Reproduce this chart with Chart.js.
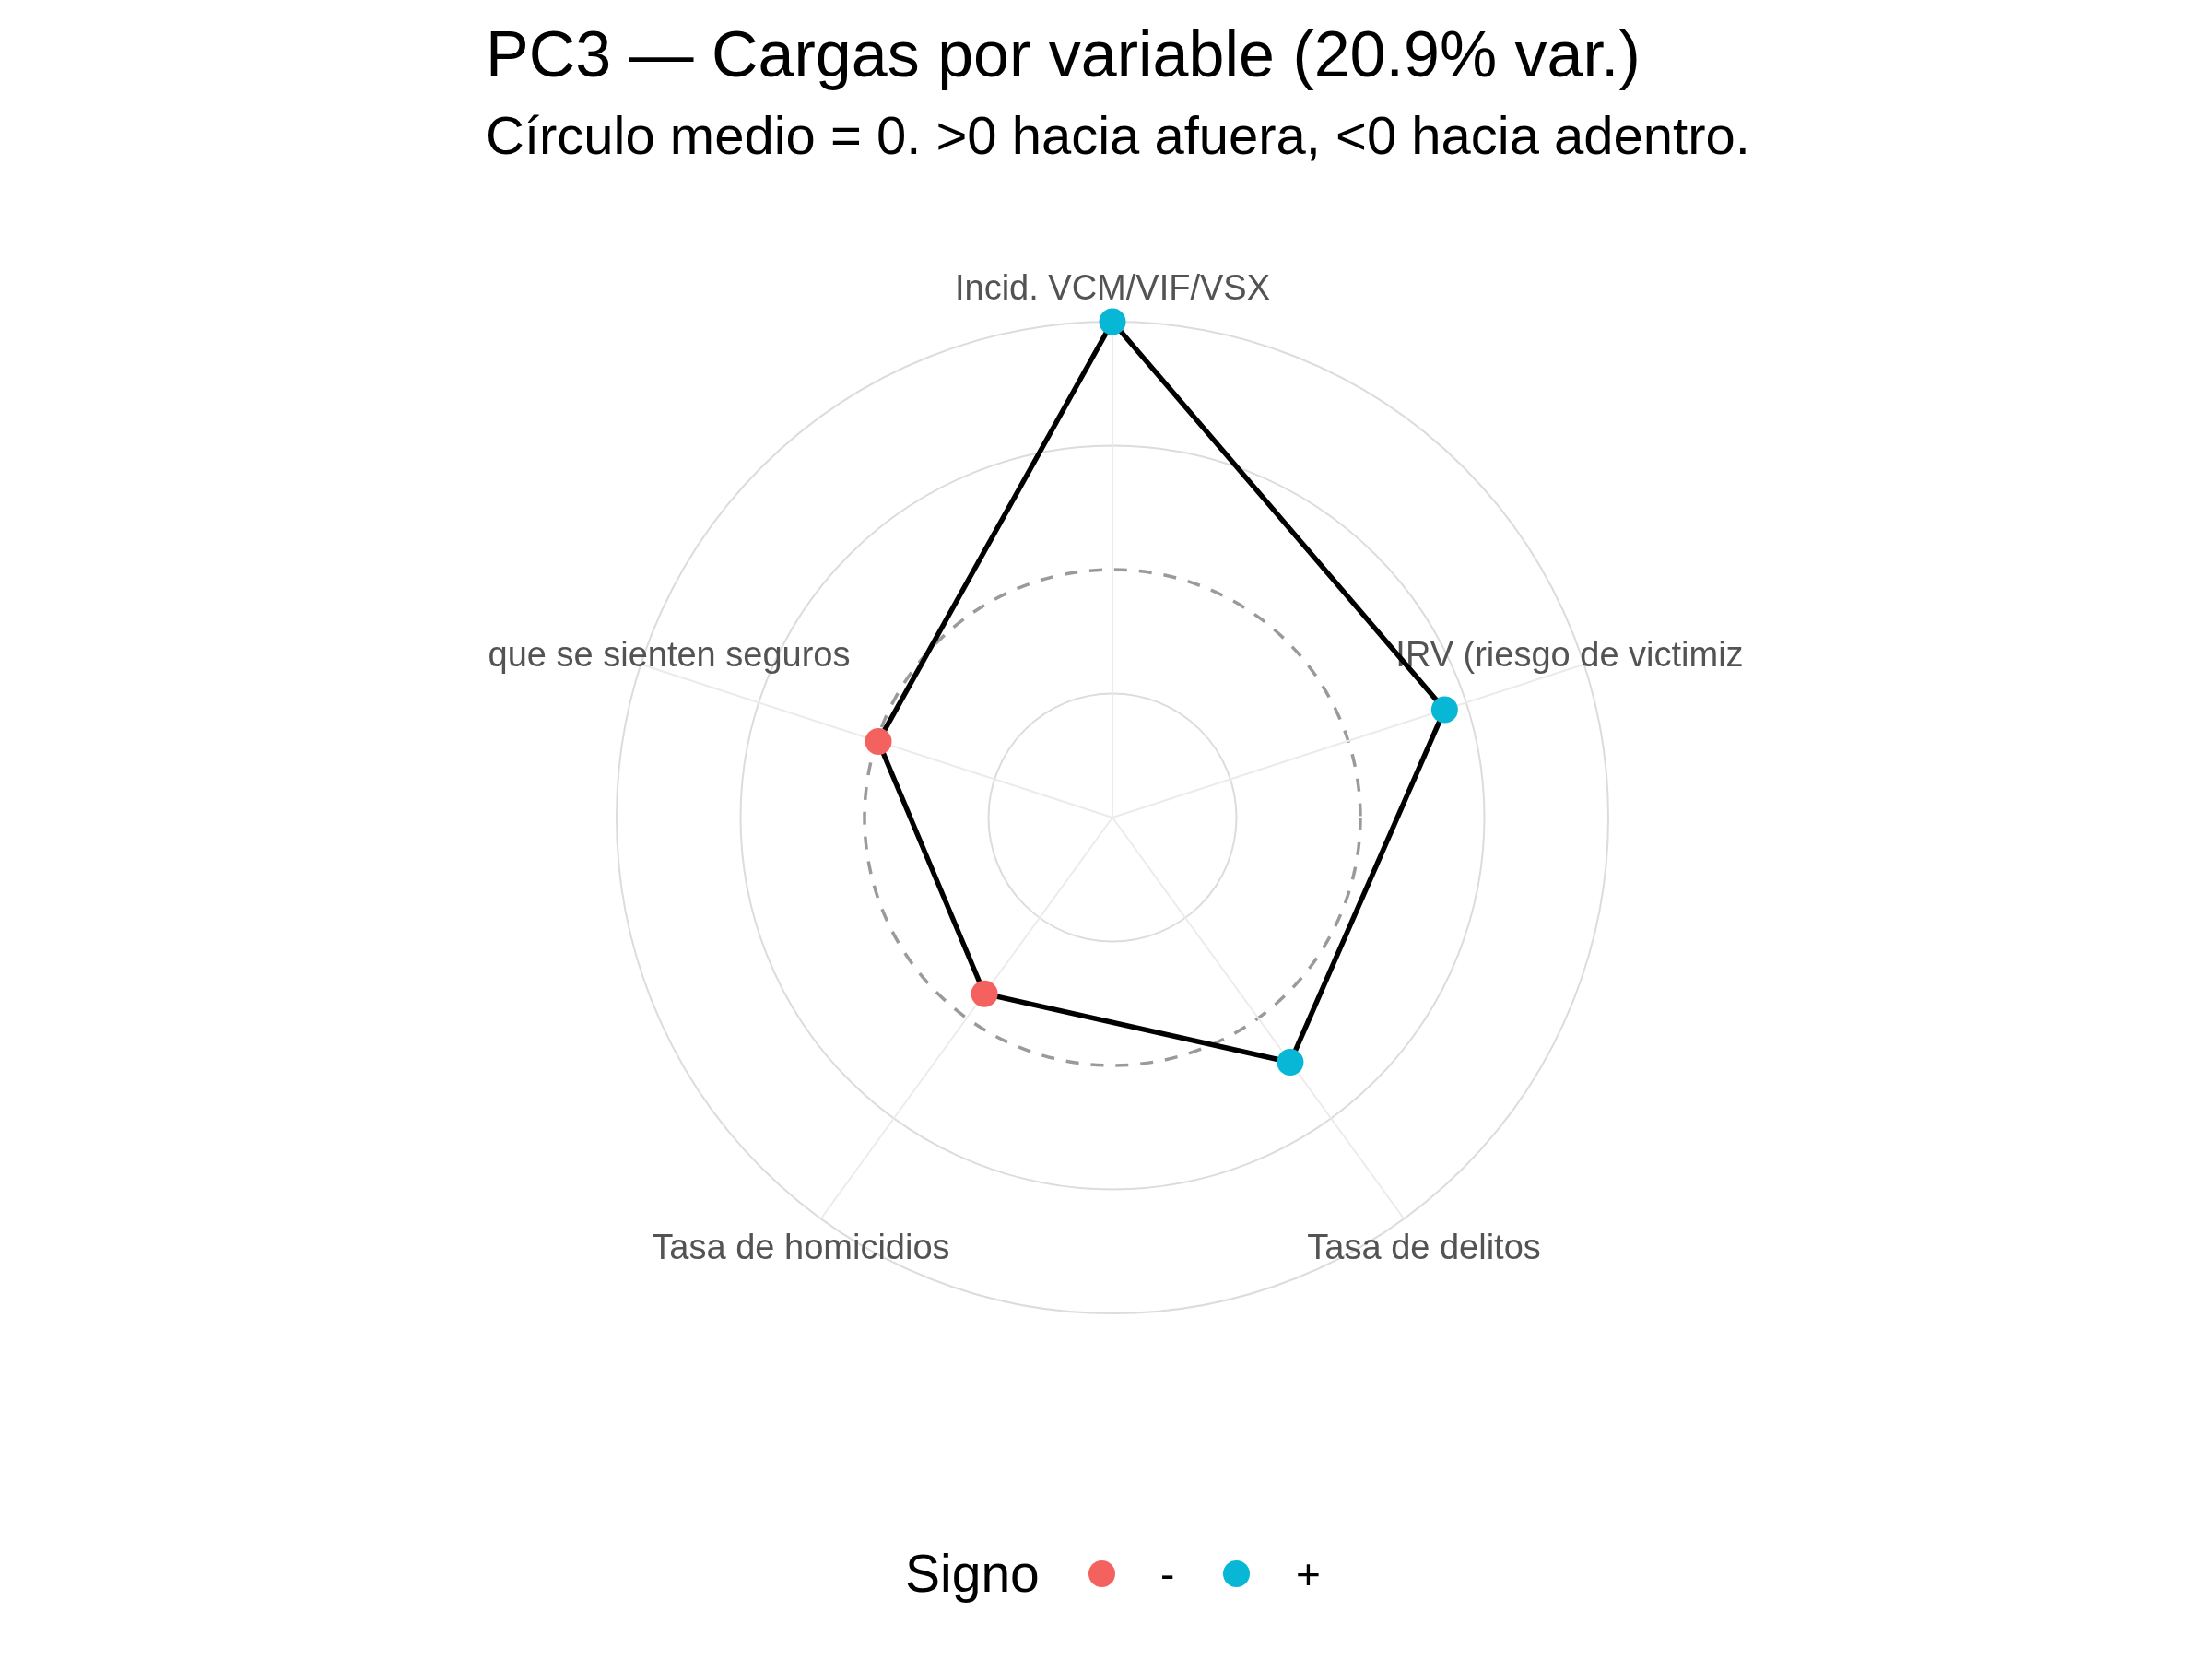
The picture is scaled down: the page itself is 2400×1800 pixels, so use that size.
<!DOCTYPE html>
<html>
<head>
<meta charset="utf-8">
<script src="https://cdn.jsdelivr.net/npm/chart.js@4"></script>
<style>
  body { margin: 0; background: #fff; }
  #wrap { position: relative; width: 2400px; height: 1800px; font-family: "Liberation Sans", Arial, sans-serif; }
  .txt { position: absolute; white-space: nowrap; line-height: 1; color: #000; }
  .dot { position: absolute; width: 29px; height: 29px; border-radius: 50%; }
</style>
</head>
<body>
<div id="wrap">
  <canvas id="myChart" width="2400" height="1800"></canvas>
  <div class="txt" style="left:527px; top:24px; font-size:70px;">PC3 — Cargas por variable (20.9% var.)</div>
  <div class="txt" style="left:527px; top:118px; font-size:58px;">Círculo medio = 0. &gt;0 hacia afuera, &lt;0 hacia adentro.</div>
  <div id="legend"></div>
</div>
<script>
// loadings (rings: -0.7 centre, 0 dashed, 0.7 outer)
const categories = ['Incid. VCM/VIF/VSX', 'IRV (riesgo de victimiz', 'Tasa de delitos', 'Tasa de homicidios', 'que se sienten seguros'];
const loadings = [0.70, 0.286, 0.154, -0.085, -0.005];
const rTicks = [-0.7, -0.35, 0, 0.35, 0.7];
const signLabels = ['-', '+'];
const signColors = ['#F3625F', '#08B7D6'];

function signColor(v) {
    return v < 0 ? signColors[0] : signColors[1];
}

// legend (html)
const legend = document.getElementById('legend');
legend.innerHTML =
    '<div class="txt" style="left:982px; top:1679px; font-size:57px;">Signo</div>' +
    '<div class="dot" style="left:1181px; top:1693px; background:' + signColors[0] + '"></div>' +
    '<div class="txt" style="left:1259px; top:1685px; font-size:46px;">' + signLabels[0] + '</div>' +
    '<div class="dot" style="left:1327px; top:1693px; background:' + signColors[1] + '"></div>' +
    '<div class="txt" style="left:1406px; top:1685px; font-size:46px;">' + signLabels[1] + '</div>';

// labels sit a bit outside the outer ring, side ones nudged inwards like the original
const labelNudge = [0, -51, 0, 0, 66];
const axisLabels = {
    id: 'axisLabels',
    beforeDatasetsDraw(chart) {
        const scale = chart.scales.r;
        const ctx = chart.ctx;
        ctx.save();
        ctx.font = '38px "Liberation Sans", Arial, sans-serif';
        ctx.fillStyle = '#535353';
        ctx.textAlign = 'center';
        ctx.textBaseline = 'alphabetic';
        categories.forEach((lab, i) => {
            const p = scale.getPointPosition(i, scale.drawingArea * 1.069);
            ctx.fillText(lab, p.x + labelNudge[i], p.y + 13.5);
        });
        ctx.restore();
    }
};

function createGraph()
{
    const ctx = document.getElementById('myChart');

    new Chart(ctx, {
        type: 'radar',
        data: {
            labels: categories,
            datasets: [{
                data: loadings,
                borderColor: '#000',
                borderWidth: 5.5,
                fill: false,
                tension: 0,
                clip: false,
                pointRadius: 14.5,
                pointHoverRadius: 14.5,
                pointBorderWidth: 0,
                pointBackgroundColor: loadings.map(signColor)
            }]
        },
        options: {
            responsive: false,
            animation: false,
            events: [],
            layout: { padding: { left: 669, right: 655, top: 349, bottom: 375 } },
            plugins: {
                legend: { display: false },
                tooltip: { enabled: false }
            },
            scales: {
                r: {
                    min: rTicks[0],
                    max: rTicks[rTicks.length - 1],
                    ticks: { display: false, stepSize: 0.35 },
                    pointLabels: { display: false },
                    angleLines: { color: '#EBEBEB', lineWidth: 2 },
                    grid: {
                        circular: true,
                        color: c => c.tick && c.tick.value === 0 ? '#9A9A9A' : '#DCDCDC',
                        lineWidth: c => c.tick && c.tick.value === 0 ? 3.5 : 2
                    },
                    border: {
                        dash: c => c.tick && c.tick.value === 0 ? [14, 13] : []
                    }
                }
            }
        },
        plugins: [axisLabels]
    });
}

createGraph();
</script>
</body>
</html>
